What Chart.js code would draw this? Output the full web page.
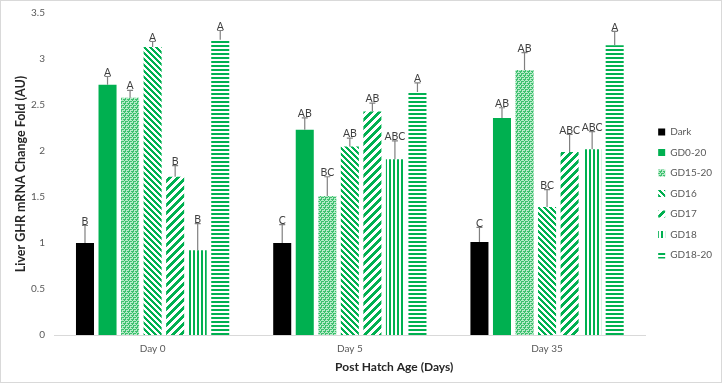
<!DOCTYPE html>
<html>
<head>
<meta charset="utf-8">
<script src="https://cdn.jsdelivr.net/npm/chart.js@4/dist/chart.umd.min.js"></script>
<style>
  html, body { margin: 0; padding: 0; background: #fff; }
  #wrap { position: relative; width: 722px; height: 383px; box-sizing: border-box; border: 1px solid #d9d9d9; }
</style>
</head>
<body>
<div id="wrap"><canvas id="chart"></canvas></div>
<script>
// categories and series
const categories = ['Day 0', 'Day 5', 'Day 35'];
const seriesNames = ['Dark', 'GD0-20', 'GD15-20', 'GD16', 'GD17', 'GD18', 'GD18-20'];

// mean values per series (Day 0, Day 5, Day 35)
const dark   = [1.00, 1.00, 1.01];
const gd0_20 = [2.72, 2.23, 2.36];
const gd15_20 = [2.58, 1.51, 2.88];
const gd16   = [3.13, 2.05, 1.39];
const gd17   = [1.72, 2.43, 1.99];
const gd18   = [0.92, 1.91, 2.02];
const gd18_20 = [3.21, 2.64, 3.15];

// upper error (SE)
const darkErr   = [0.19, 0.20, 0.16];
const gd0_20Err = [0.09, 0.13, 0.11];
const gd15_20Err = [0.08, 0.21, 0.19];
const gd16Err   = [0.06, 0.09, 0.19];
const gd17Err   = [0.12, 0.09, 0.19];
const gd18Err   = [0.29, 0.20, 0.19];
const gd18_20Err = [0.10, 0.10, 0.15];

// significance letters
const darkLet   = ['B', 'C', 'C'];
const gd0_20Let = ['A', 'AB', 'AB'];
const gd15_20Let = ['A', 'BC', 'AB'];
const gd16Let   = ['A', 'AB', 'BC'];
const gd17Let   = ['B', 'AB', 'ABC'];
const gd18Let   = ['B', 'ABC', 'ABC'];
const gd18_20Let = ['A', 'A', 'A'];

const yTicks = [0, 0.5, 1, 1.5, 2, 2.5, 3, 3.5];
const xTitle = 'Post Hatch Age (Days)';

const GREEN = '#00b050';
const FONT = 'Lato, "Open Sans", sans-serif';

// petits motifs de remplissage (hachures façon Excel)
function makePattern(w, h, drawFn) {
    const c = document.createElement('canvas');
    c.width = w; c.height = h;
    const g = c.getContext('2d');
    drawFn(g, w, h);
    return g.createPattern(c, 'repeat');
}

const fills = [
    '#000000',
    GREEN,
    makePattern(4, 4, (g) => {
        g.fillStyle = '#b8ebc9'; g.fillRect(0, 0, 4, 4);
        g.fillStyle = '#3cc06e';
        g.fillRect(0, 0, 2, 1); g.fillRect(2, 2, 2, 1);
        g.fillRect(0, 1, 1, 1); g.fillRect(3, 3, 1, 1);
        g.fillRect(2, 0, 1, 1); g.fillRect(0, 2, 1, 1);
    }),
    makePattern(6, 6, (g) => {
        g.fillStyle = '#fff'; g.fillRect(0, 0, 6, 6);
        g.fillStyle = GREEN;
        for (let i = 0; i < 6; i++) {
            g.fillRect(i, i, 1, 1);
            g.fillRect((i + 1) % 6, i, 1, 1);
            g.fillRect((i + 2) % 6, i, 1, 1);
        }
    }),
    makePattern(8, 8, (g) => {
        g.fillStyle = '#fff'; g.fillRect(0, 0, 8, 8);
        g.fillStyle = GREEN;
        for (let i = 0; i < 8; i++) {
            for (let k = 0; k < 4; k++) g.fillRect((7 - i + k) % 8, i, 1, 1);
        }
    }),
    makePattern(4, 4, (g) => {
        g.fillStyle = '#fff'; g.fillRect(0, 0, 4, 4);
        g.fillStyle = GREEN; g.fillRect(0, 0, 2, 4);
    }),
    makePattern(4, 4, (g) => {
        g.fillStyle = '#fff'; g.fillRect(0, 0, 4, 4);
        g.fillStyle = GREEN; g.fillRect(0, 0, 4, 2);
    })
];

const values = [dark, gd0_20, gd15_20, gd16, gd17, gd18, gd18_20];
const errors = [darkErr, gd0_20Err, gd15_20Err, gd16Err, gd17Err, gd18Err, gd18_20Err];
const letters = [darkLet, gd0_20Let, gd15_20Let, gd16Let, gd17Let, gd18Let, gd18_20Let];

const datasets = seriesNames.map((name, i) => ({
    label: name,
    data: values[i],
    backgroundColor: fills[i],
    borderWidth: 0,
    categoryPercentage: 0.8,
    barPercentage: 0.8
}));

// barres d'erreur + lettres, placées via l'échelle y
const errorBarPlugin = {
    id: 'errorBars',
    afterDatasetsDraw(chart) {
        const ctx = chart.ctx;
        const yScale = chart.scales.y;
        ctx.save();
        chart.data.datasets.forEach((ds, di) => {
            const meta = chart.getDatasetMeta(di);
            meta.data.forEach((bar, j) => {
                const top = yScale.getPixelForValue(ds.data[j] + errors[di][j]);
                ctx.strokeStyle = '#808080';
                ctx.lineWidth = 1.2;
                ctx.beginPath();
                ctx.moveTo(bar.x, bar.y);
                ctx.lineTo(bar.x, top);
                ctx.moveTo(bar.x - 3, top);
                ctx.lineTo(bar.x + 3, top);
                ctx.stroke();
                ctx.fillStyle = '#404040';
                ctx.font = '10.5px ' + FONT;
                ctx.textAlign = 'center';
                ctx.textBaseline = 'bottom';
                ctx.fillText(letters[di][j], bar.x, top + 1);
            });
        });
        ctx.restore();
    }
};

// titre de l'axe x, décalé vers la droite comme dans l'original
const xTitlePlugin = {
    id: 'xTitle',
    afterDraw(chart) {
        const { ctx, chartArea } = chart;
        const xs = chart.scales.x;
        ctx.save();
        ctx.fillStyle = '#262626';
        ctx.font = 'bold 12px ' + FONT;
        ctx.textAlign = 'center';
        ctx.textBaseline = 'middle';
        ctx.fillText(xTitle, chartArea.left + (chartArea.right - chartArea.left) * 0.575, xs.bottom - 7);
        ctx.restore();
    }
};

// décale un peu la légende (droite + bas)
const legendShift = {
    id: 'legendShift',
    afterLayout(chart) {
        const lg = chart.legend;
        if (!lg) return;
        lg.left += 2;
        lg.right += 2;
        lg.top += 6;
        lg.bottom += 6;
    }
};

new Chart(document.getElementById('chart'), {
    type: 'bar',
    data: { labels: categories, datasets: datasets },
    options: {
        responsive: true,
        maintainAspectRatio: false,
        animation: false,
        layout: { padding: { top: 0, right: 1, bottom: 8, left: 12 } },
        plugins: {
            legend: {
                position: 'right',
                labels: {
                    boxWidth: 7,
                    boxHeight: 7,
                    padding: 10.5,
                    color: '#595959',
                    font: { family: FONT, size: 10 }
                }
            },
            tooltip: { enabled: false }
        },
        scales: {
            x: {
                afterFit: (scale) => { scale.height = 39; },
                grid: { display: false, drawTicks: false },
                border: { color: '#d9d9d9' },
                ticks: { color: '#595959', padding: 8, font: { family: FONT, size: 10 } }
            },
            y: {
                min: 0, max: 3.5,
                afterFit: (scale) => { scale.width = 41; scale.paddingTop = 12; },
                afterBuildTicks: (axis) => { axis.ticks = yTicks.map(v => ({ value: v })); },
                grid: { display: false, drawTicks: false },
                border: { display: false },
                ticks: { color: '#595959', padding: 9, font: { family: FONT, size: 10 }, callback: (v) => String(v) },
                title: { display: true, text: 'Liver GHR mRNA Change Fold (AU)', color: '#262626', padding: { top: 0, bottom: 0 },
                    font: { family: FONT, size: 12.5, weight: 'bold' } }
            }
        }
    },
    plugins: [errorBarPlugin, xTitlePlugin, legendShift]
});
</script>
</body>
</html>
